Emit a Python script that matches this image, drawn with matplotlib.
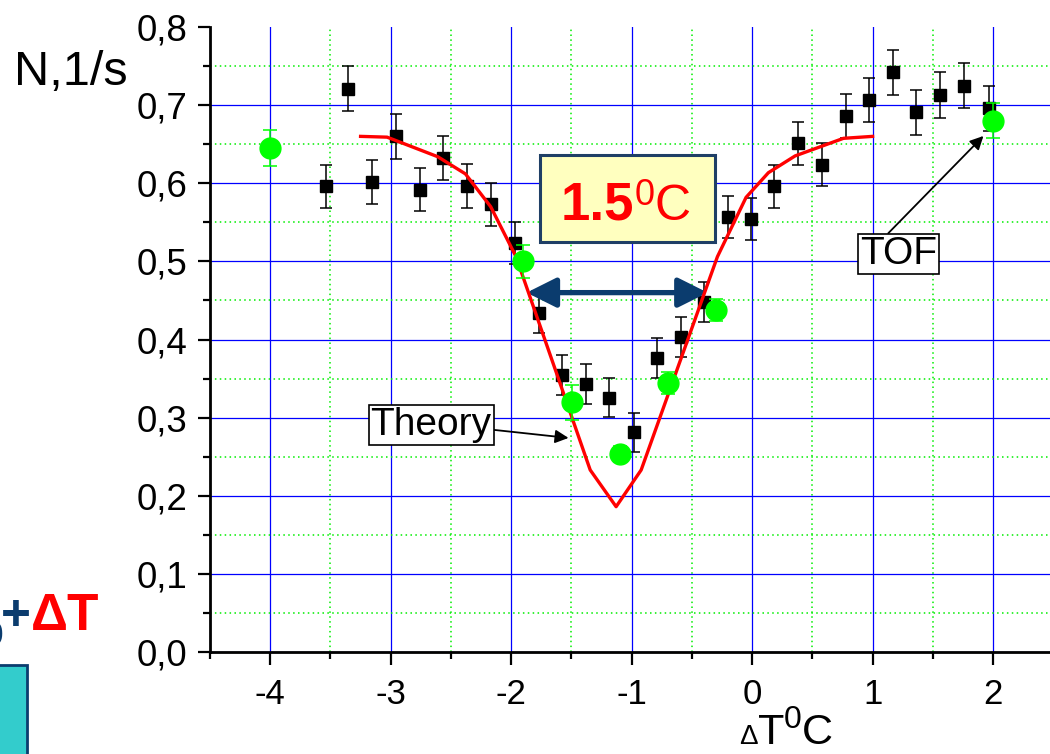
import matplotlib
matplotlib.use('Agg')
import matplotlib.pyplot as plt
from matplotlib.patches import Rectangle
from matplotlib.ticker import MultipleLocator

plt.rcParams['font.family'] = ['Liberation Sans', 'DejaVu Sans']
plt.rcParams['mathtext.fontset'] = 'custom'
plt.rcParams['mathtext.rm'] = 'Liberation Sans'
plt.rcParams['mathtext.bf'] = 'Liberation Sans:bold'

# measured points (black squares)
sq_x = [-3.54, -3.355, -3.156, -2.96, -2.76, -2.564, -2.37, -2.17, -1.97, -1.77,
        -1.577, -1.38, -1.184, -0.977, -0.791, -0.594, -0.403, -0.20, -0.01, 0.185,
        0.382, 0.578, 0.777, 0.971, 1.17, 1.363, 1.562, 1.762, 1.964]
sq_y = [0.596, 0.721, 0.602, 0.660, 0.592, 0.632, 0.5965, 0.573, 0.524, 0.434,
        0.355, 0.343, 0.3256, 0.281, 0.376, 0.4036, 0.448, 0.557, 0.554, 0.596,
        0.651, 0.624, 0.686, 0.7066, 0.742, 0.691, 0.713, 0.725, 0.696]
sq_err = [0.0277, 0.029, 0.028, 0.0284, 0.028, 0.028, 0.0277, 0.0273, 0.027, 0.026,
          0.0256, 0.025, 0.025, 0.0245, 0.0254, 0.0254, 0.026, 0.027, 0.027, 0.0277,
          0.028, 0.028, 0.028, 0.0286, 0.029, 0.029, 0.029, 0.029, 0.029]

# TOF points (green circles)
tof_x = [-4.0, -1.90, -1.496, -1.095, -0.70, -0.299, 2.0]
tof_y = [0.6455, 0.50, 0.3196, 0.2535, 0.3448, 0.4378, 0.680]
tof_err = [0.023, 0.021, 0.022, 0.01, 0.014, 0.0135, 0.0226]

# theory curve
theory_x = [-3.25, -3.03, -2.61, -2.38, -2.17, -1.96, -1.344, -1.129, -0.921,
            -0.288, -0.05, 0.135, 0.357, 0.758, 1.0]
theory_y = [0.660, 0.659, 0.634, 0.612, 0.570, 0.506, 0.233, 0.186, 0.233,
            0.506, 0.582, 0.6135, 0.635, 0.6575, 0.660]

x_ticks = [-4, -3, -2, -1, 0, 1, 2]
x_labels = ['-4', '-3', '-2', '-1', '0', '1', '2']
y_ticks = [0.0, 0.1, 0.2, 0.3, 0.4, 0.5, 0.6, 0.7, 0.8]
y_labels = ['0,0', '0,1', '0,2', '0,3', '0,4', '0,5', '0,6', '0,7', '0,8']

W, H = 1050, 754
navy = '#0B3C6E'

fig = plt.figure(figsize=(10.5, 7.54), dpi=100)
ax = fig.add_axes([210 / W, 1 - 652 / H, (1053.3 - 210) / W, (652 - 27) / H])

ax.set_xlim(-4.5, 2.5)
ax.set_ylim(0, 0.8)
ax.set_xticks(x_ticks)
ax.set_xticklabels(x_labels)
ax.set_yticks(y_ticks)
ax.set_yticklabels(y_labels)
ax.xaxis.set_minor_locator(MultipleLocator(0.5))
ax.yaxis.set_minor_locator(MultipleLocator(0.05))

# grid
ax.set_axisbelow(True)
ax.grid(which='major', color='#0000FF', lw=0.9, ls='-')
ax.grid(which='minor', color='#00EE00', lw=1.1, ls=(0, (1, 2.2)))
ax.yaxis.get_gridlines()[-1].set_visible(False)

for s in ['top', 'right']:
    ax.spines[s].set_visible(False)
for s in ['left', 'bottom']:
    ax.spines[s].set_linewidth(2.0)

ax.tick_params(which='major', direction='out', length=9, width=1.6)
ax.tick_params(which='minor', direction='out', length=5, width=1.6)
ax.tick_params(axis='y', which='major', labelsize=26.5, pad=7.5)
ax.tick_params(axis='x', which='major', labelsize=25, pad=10)

# data
ax.errorbar(sq_x, sq_y, yerr=sq_err, fmt='s', color='black', ms=9, ecolor='black',
            elinewidth=1.1, capsize=4.5, capthick=1.1, zorder=3)
ax.annotate('', xy=(-1.872, 0.46), xytext=(-0.369, 0.46),
            arrowprops=dict(arrowstyle='<|-|>', mutation_scale=45, lw=3.8, color=navy,
                            shrinkA=0, shrinkB=0), zorder=4)
ax.plot(theory_x, theory_y, color='red', lw=2.4, zorder=5)
ax.errorbar(tof_x, tof_y, yerr=tof_err, fmt='o', color='#00FF00', ms=15, ecolor='#00FF00',
            elinewidth=1.1, capsize=5, capthick=1.1, zorder=6)

# labels on the plot
ax.annotate('Theory', xy=(-1.524, 0.274), xytext=(-2.664, 0.2906), ha='center', va='center',
            fontsize=28, zorder=8,
            bbox=dict(boxstyle='square,pad=0.05', fc='white', ec='black', lw=1.2),
            arrowprops=dict(arrowstyle='-|>', color='black', lw=1.3, mutation_scale=20,
                            relpos=(1.0, 0.37), shrinkA=0, shrinkB=0))
ax.annotate('TOF', xy=(1.92, 0.6605), xytext=(1.218, 0.5097), ha='center', va='center',
            fontsize=28, zorder=8,
            bbox=dict(boxstyle='square,pad=0.05', fc='white', ec='black', lw=1.2),
            arrowprops=dict(arrowstyle='-|>', color='black', lw=1.3, mutation_scale=20,
                            relpos=(0.33, 1.0), shrinkA=0, shrinkB=0))

renderer = fig.canvas.get_renderer()


def text_run(x0, base, pieces):
    # pieces: (text, size, color, weight, raise in px)
    x = x0
    for s, size, color, weight, dy in pieces:
        t = fig.text(x / W, 1 - (base - dy) / H, s, fontsize=size, color=color,
                     fontweight=weight, ha='left', va='baseline', zorder=10)
        x += t.get_window_extent(renderer=renderer).width


# yellow box with 1.5 C
fig.add_artist(Rectangle((540 / W, 1 - 242 / H), 175 / W, 87 / H, transform=fig.transFigure,
                         fc='#FFFFBF', ec='#1F3F66', lw=2.2, zorder=9))
text_run(561, 220, [('1.5', 38, 'red', 'bold', 0), ('0', 26, 'red', 'normal', 15),
                    ('C', 36, 'red', 'normal', 0)])

# axis titles
fig.text(14 / W, 1 - 85 / H, 'N,1/s', fontsize=35, va='baseline', ha='left')
text_run(739, 744, [('Δ', 20, 'black', 'normal', 0), ('T', 31, 'black', 'normal', 0),
                    ('0', 23, 'black', 'normal', 16), ('C', 31, 'black', 'normal', 0)])

# cut-off pieces at the left edge
fig.text(3 / W, 1 - 645 / H, '0', fontsize=24, color=navy, fontweight='bold',
         ha='right', va='baseline')
text_run(1, 630, [('+', 37, navy, 'bold', 0), ('ΔT', 37, 'red', 'bold', 0)])
fig.add_artist(Rectangle((-20 / W, -20 / H), 46.7 / W, (754 - 665 + 20) / H,
                         transform=fig.transFigure, fc='#33CCCC', ec=navy, lw=2.0))

plt.savefig('out.png', dpi=100)
